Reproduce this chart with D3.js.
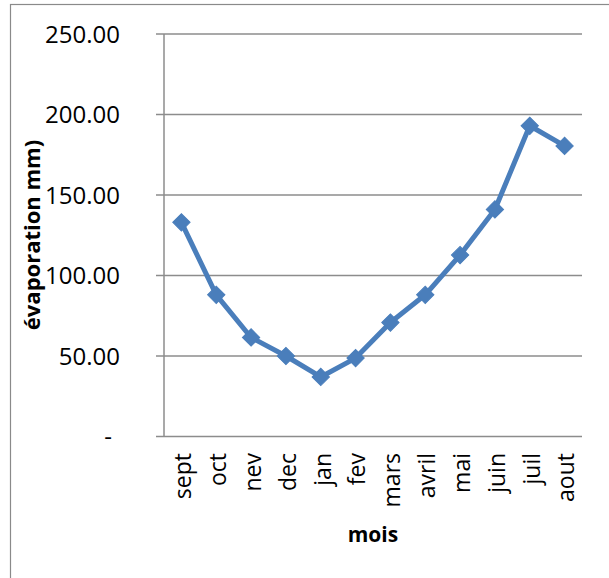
<!DOCTYPE html>
<html>
<head>
<meta charset="utf-8">
<script src="https://cdn.jsdelivr.net/npm/d3@7"></script>
<style>
  html, body { margin: 0; padding: 0; background: #fff; }
  svg { display: block; }
</style>
</head>
<body>
<svg id="chart" width="609" height="578"></svg>
<script>
// Monthly evaporation (mm), hydrological year Sept -> Aug
const months = ["sept", "oct", "nev", "dec", "jan", "fev", "mars", "avril", "mai", "juin", "juil", "aout"];
const evaporation = [133, 88, 61.5, 50, 37, 48.7, 70.8, 88, 112.7, 141, 193, 180.5];
const yTicks = [0, 50, 100, 150, 200, 250];
const yTitle = "évaporation mm)";
const xTitle = "mois";

const svg = d3.select("#chart");
const font = "'Open Sans', 'Lato', sans-serif";
const gridColor = "#8c8c8c";
const lineColor = "#4a7ebb";

const plot = { left: 164, right: 582, top: 34, bottom: 436.5 };

// chart frame (runs past the right and bottom edges)
svg.append("rect")
  .attr("x", 10.5).attr("y", 4.5)
  .attr("width", 640).attr("height", 620)
  .attr("fill", "#fff")
  .attr("stroke", "#8a8a8a").attr("stroke-width", 1.2);

const x = d3.scaleBand().domain(months).range([plot.left, plot.right]).padding(0);
const y = d3.scaleLinear().domain([0, 250]).range([plot.bottom, plot.top]);

const fmt = v => v === 0 ? "-" : d3.format(".2f")(v);

// horizontal gridlines with short outward ticks
svg.append("g")
  .selectAll("line")
  .data(yTicks)
  .join("line")
  .attr("x1", plot.left - 8).attr("x2", plot.right)
  .attr("y1", d => y(d)).attr("y2", d => y(d))
  .attr("stroke", gridColor).attr("stroke-width", 1.5);

// vertical axis line
svg.append("line")
  .attr("x1", plot.left).attr("x2", plot.left)
  .attr("y1", y(250)).attr("y2", y(0))
  .attr("stroke", gridColor).attr("stroke-width", 1.5);

// y tick labels
svg.append("g")
  .selectAll("text")
  .data(yTicks)
  .join("text")
  .attr("x", d => d === 0 ? 112 : 120)
  .attr("y", d => y(d))
  .attr("dy", "0.36em")
  .attr("text-anchor", "end")
  .attr("font-family", font)
  .attr("font-size", 24)
  .attr("fill", "#000")
  .text(fmt);

// x tick labels, rotated
svg.append("g")
  .selectAll("text")
  .data(months)
  .join("text")
  .attr("transform", d => `translate(${x(d) + x.bandwidth() / 2 + 1.5},453) rotate(-90)`)
  .attr("dy", "0.36em")
  .attr("text-anchor", "end")
  .attr("font-family", font)
  .attr("font-size", 23)
  .attr("fill", "#000")
  .text(d => d);

// axis titles
svg.append("text")
  .attr("x", (plot.left + plot.right) / 2)
  .attr("y", 542)
  .attr("text-anchor", "middle")
  .attr("font-family", font)
  .attr("font-weight", "bold")
  .attr("font-size", 21)
  .text(xTitle);

svg.append("text")
  .attr("transform", "translate(32,235) rotate(-90)")
  .attr("dy", "0.36em")
  .attr("text-anchor", "middle")
  .attr("font-family", font)
  .attr("font-weight", "bold")
  .attr("font-size", 22)
  .text(yTitle);

// series line and diamond markers
const pts = months.map((m, i) => ({ m, v: evaporation[i] }));
const line = d3.line()
  .x(d => x(d.m) + x.bandwidth() / 2)
  .y(d => y(d.v));

svg.append("path")
  .datum(pts)
  .attr("d", line)
  .attr("fill", "none")
  .attr("stroke", lineColor)
  .attr("stroke-width", 5)
  .attr("stroke-linejoin", "round");

const diamond = d3.symbol().type(d3.symbolSquare).size(150);
svg.append("g")
  .selectAll("path")
  .data(pts)
  .join("path")
  .attr("d", diamond)
  .attr("transform", d => `translate(${x(d.m) + x.bandwidth() / 2},${y(d.v)}) rotate(45)`)
  .attr("fill", lineColor)
  .attr("stroke", lineColor)
  .attr("stroke-width", 1);
</script>
</body>
</html>
